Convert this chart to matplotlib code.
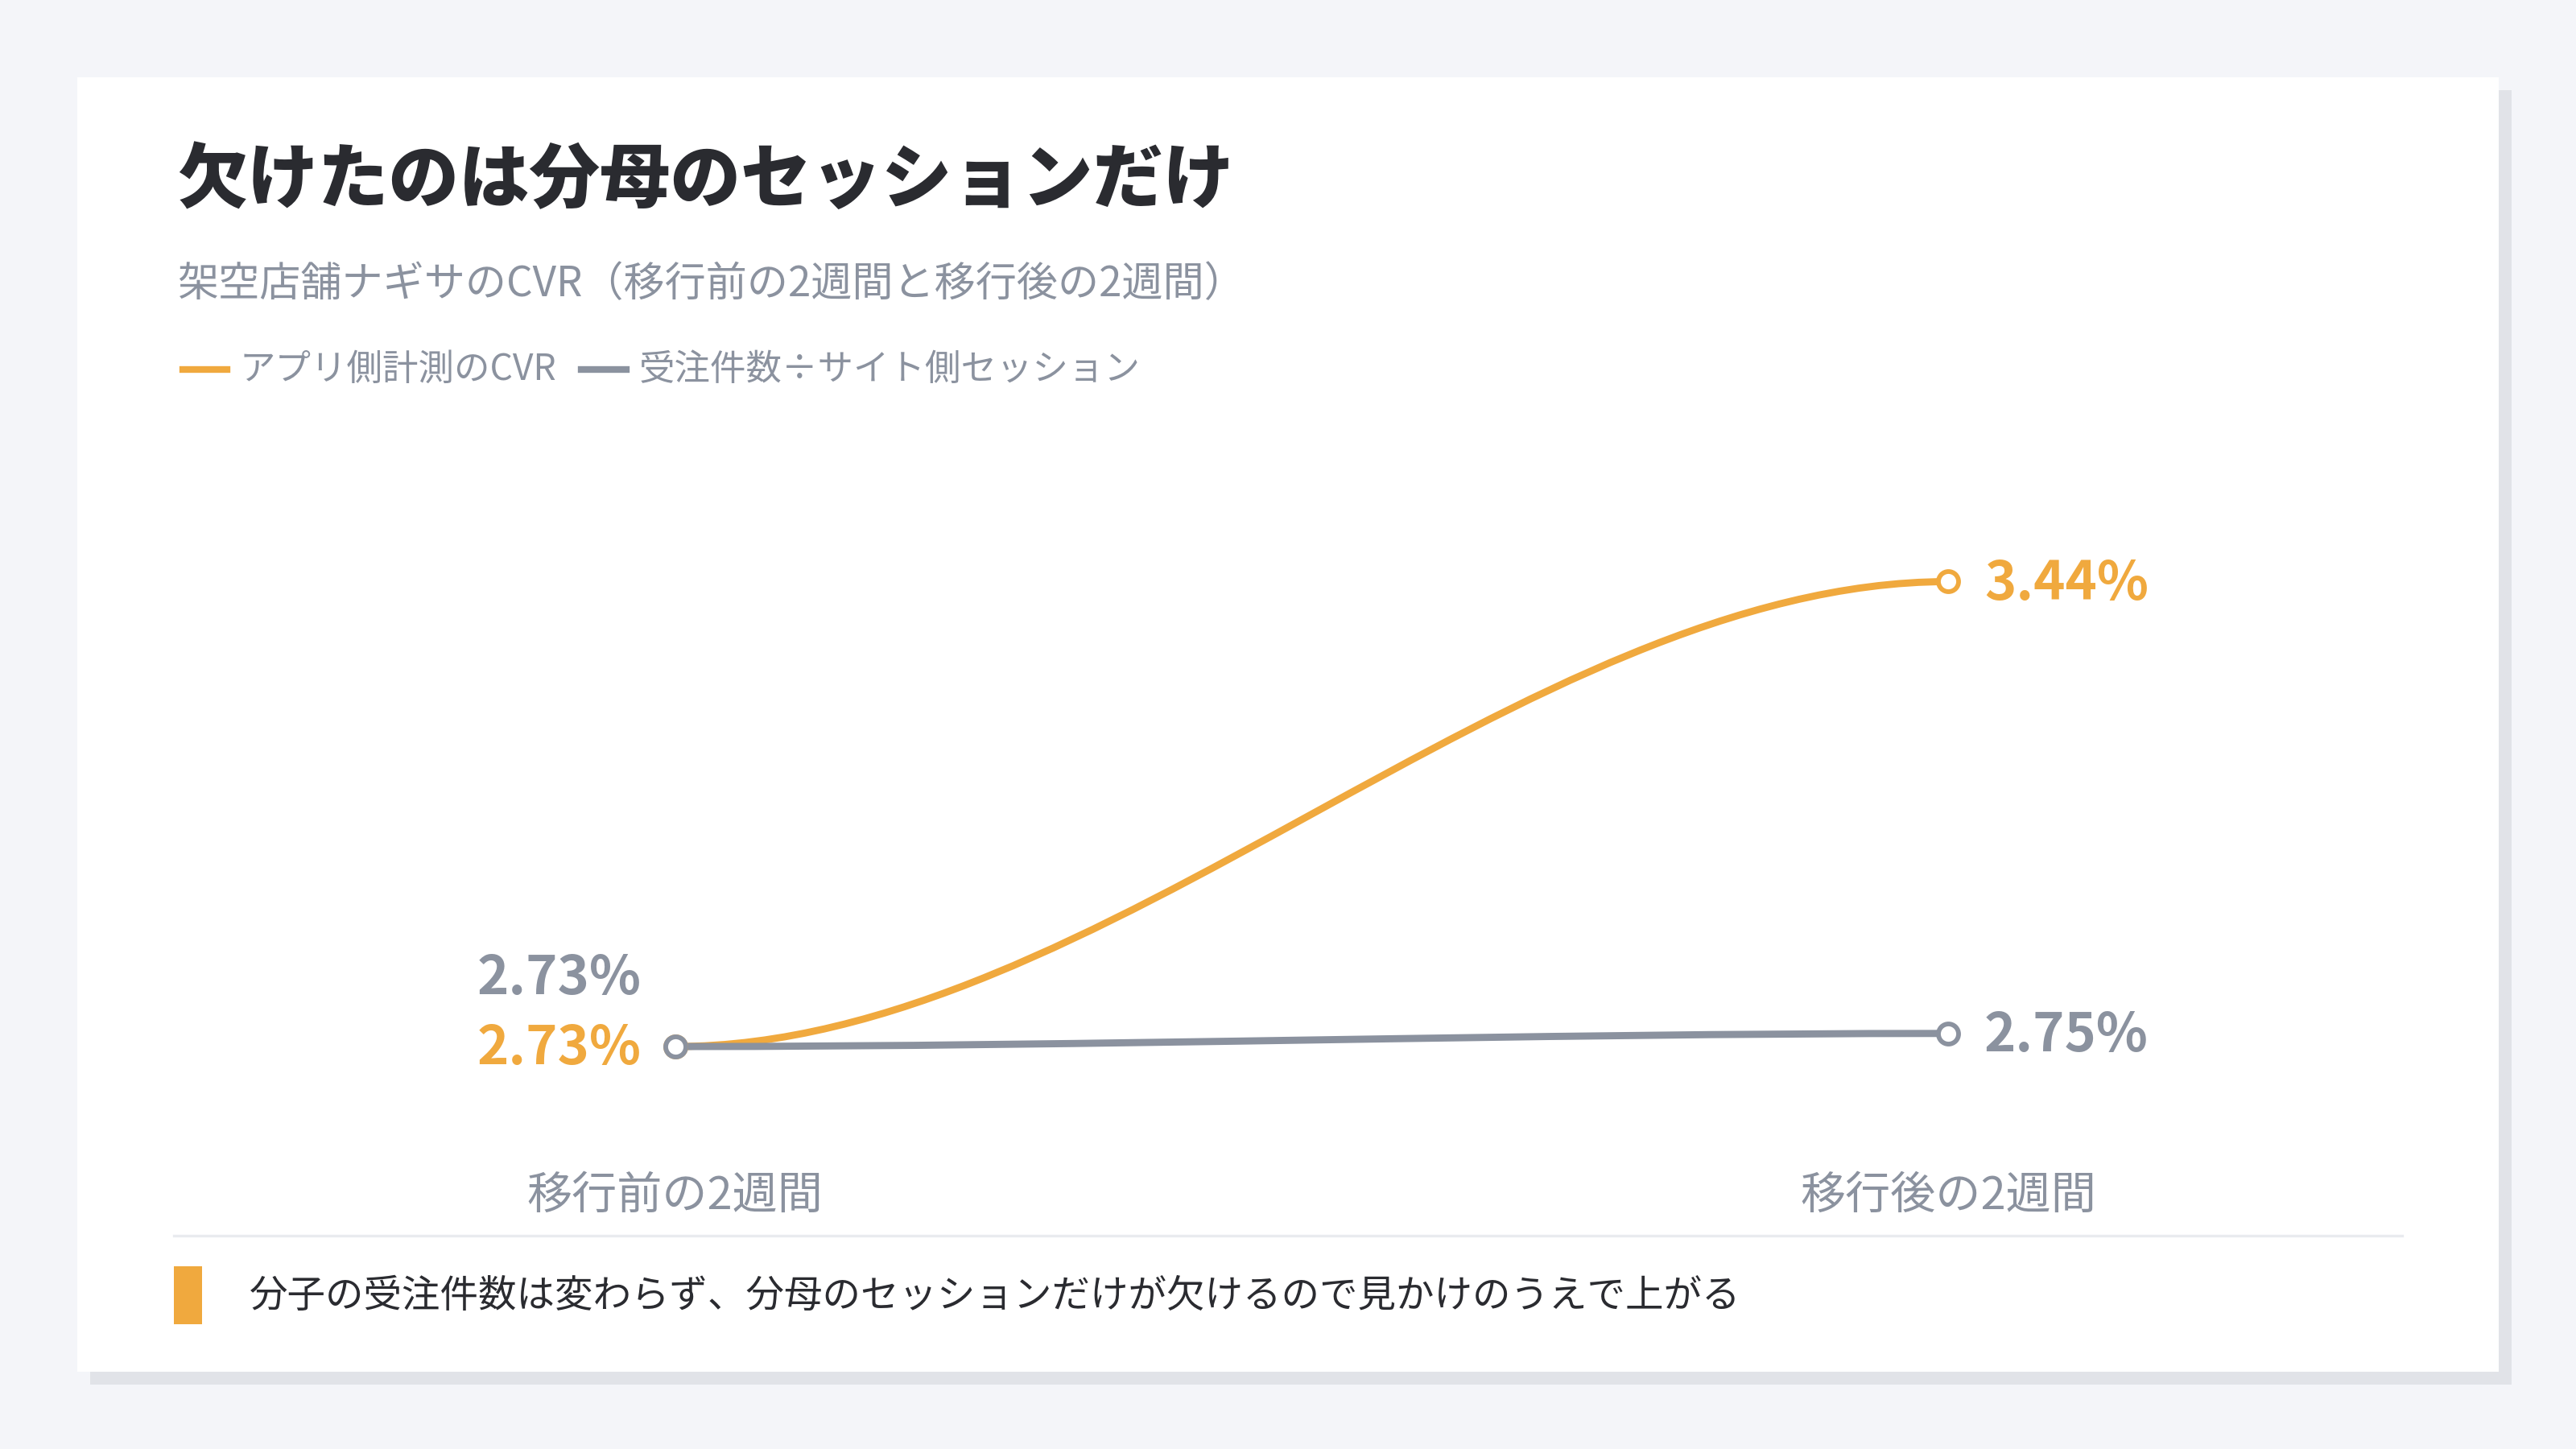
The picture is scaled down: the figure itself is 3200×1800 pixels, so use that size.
import matplotlib
matplotlib.use("Agg")
import matplotlib.pyplot as plt
from matplotlib.path import Path
from matplotlib.patches import PathPatch, Rectangle
from matplotlib.lines import Line2D
import matplotlib.transforms as mtransforms

plt.rcParams['font.family'] = ['Noto Sans CJK JP', 'DejaVu Sans']

# データ
periods = ["移行前の2週間", "移行後の2週間"]
app_cvr = [2.73, 3.44]        # アプリ側計測のCVR
site_cvr = [2.73, 2.75]       # 受注件数÷サイト側セッション
series_names = ["アプリ側計測のCVR", "受注件数÷サイト側セッション"]

title = "欠けたのは分母のセッションだけ"
subtitle = "架空店舗ナギサのCVR（移行前の2週間と移行後の2週間）"
note = "分子の受注件数は変わらず、分母のセッションだけが欠けるので見かけのうえで上がる"

ORANGE = "#f0a93e"
GRAY = "#8b929f"
DARK = "#2a2b30"
BG = "#f4f5f9"

W, H = 1568.0, 882.0   # 参照画像の表示座標


def fx(x):
    return x / W


def fy(y):
    return 1 - y / H


fig = plt.figure(figsize=(16, 9), dpi=200, facecolor=BG)

# カードと影
fig.patches.append(Rectangle((fx(55), fy(843)), fx(1529) - fx(55), fy(55) - fy(843),
                             transform=fig.transFigure, facecolor="#e1e3e8",
                             edgecolor="none", zorder=0))
fig.patches.append(Rectangle((fx(47), fy(835)), fx(1521) - fx(47), fy(47) - fy(835),
                             transform=fig.transFigure, facecolor="white",
                             edgecolor="none", zorder=1))

# タイトル・サブタイトル
fig.text(fx(108), fy(110), title, fontsize=31.5, fontweight="heavy", color=DARK,
         ha="left", va="center")
fig.text(fx(108), fy(173), subtitle, fontsize=18.4, color=GRAY, ha="left", va="center")

# 凡例
leg_x = [111, 354]
leg_tx = [146, 389]
for i, c in enumerate([ORANGE, GRAY]):
    fig.lines.append(Line2D([fx(leg_x[i]), fx(leg_x[i] + 27)], [fy(225), fy(225)],
                            transform=fig.transFigure, color=c, linewidth=3.0,
                            zorder=3))
    fig.text(fx(leg_tx[i]), fy(225), series_names[i], fontsize=16, color=GRAY,
             ha="left", va="center")

# グラフ
ax = fig.add_axes([fx(106), fy(700), fx(1462) - fx(106), fy(290) - fy(700)])
ax.set_zorder(5)
ax.set_facecolor("none")
ax.set_xlim(-0.3935, 1.3561)
ax.set_ylim(2.572, 3.6006)
ax.axis("off")


def smooth(ax, xs, ys, color):
    dx = xs[1] - xs[0]
    verts = [(xs[0], ys[0]), (xs[0] + dx / 3, ys[0]), (xs[1] - dx / 3, ys[1]), (xs[1], ys[1])]
    codes = [Path.MOVETO, Path.CURVE4, Path.CURVE4, Path.CURVE4]
    ax.add_patch(PathPatch(Path(verts, codes), facecolor="none", edgecolor=color,
                           linewidth=3.2, capstyle="round", zorder=3))
    ax.plot(xs, ys, linestyle="none", marker="o", markersize=9,
            markerfacecolor="white", markeredgecolor=color, markeredgewidth=2.1,
            zorder=4)


xs = [0, 1]
smooth(ax, xs, app_cvr, ORANGE)
smooth(ax, xs, site_cvr, GRAY)

# 値ラベル
off = mtransforms.offset_copy
lab_l_orange = off(ax.transData, fig=fig, x=-15, y=-1, units="points")
lab_r = off(ax.transData, fig=fig, x=16, y=-1, units="points")
lab_l_gray = off(ax.transData, fig=fig, x=-15, y=30.5, units="points")
ax.text(xs[0], app_cvr[0], f"{app_cvr[0]:.2f}%", transform=lab_l_orange, ha="right",
        va="center", fontsize=24, fontweight="bold", color=ORANGE)
ax.text(xs[0], site_cvr[0], f"{site_cvr[0]:.2f}%", transform=lab_l_gray, ha="right",
        va="center", fontsize=24, fontweight="bold", color=GRAY)
ax.text(xs[1], app_cvr[1], f"{app_cvr[1]:.2f}%", transform=lab_r, ha="left",
        va="center", fontsize=24, fontweight="bold", color=ORANGE)
ax.text(xs[1], site_cvr[1], f"{site_cvr[1]:.2f}%", transform=lab_r, ha="left",
        va="center", fontsize=24, fontweight="bold", color=GRAY)

# x軸ラベル
tick_tr = mtransforms.blended_transform_factory(ax.transData, fig.transFigure)
for i, p in enumerate(periods):
    ax.text(xs[i], fy(728), p, transform=tick_tr, ha="center", va="center",
            fontsize=20.2, color=GRAY)

# 区切り線と注記
fig.lines.append(Line2D([fx(106), fx(1462)], [fy(752), fy(752)], transform=fig.transFigure,
                        color="#e9ebef", linewidth=1.2, zorder=3))
fig.patches.append(Rectangle((fx(106), fy(806)), fx(123) - fx(106), fy(771) - fy(806),
                             transform=fig.transFigure, facecolor=ORANGE,
                             edgecolor="none", zorder=3))
fig.text(fx(152), fy(789), note, fontsize=17.1, color=DARK, ha="left", va="center")

fig.savefig("out.png", dpi=200, facecolor=BG)
